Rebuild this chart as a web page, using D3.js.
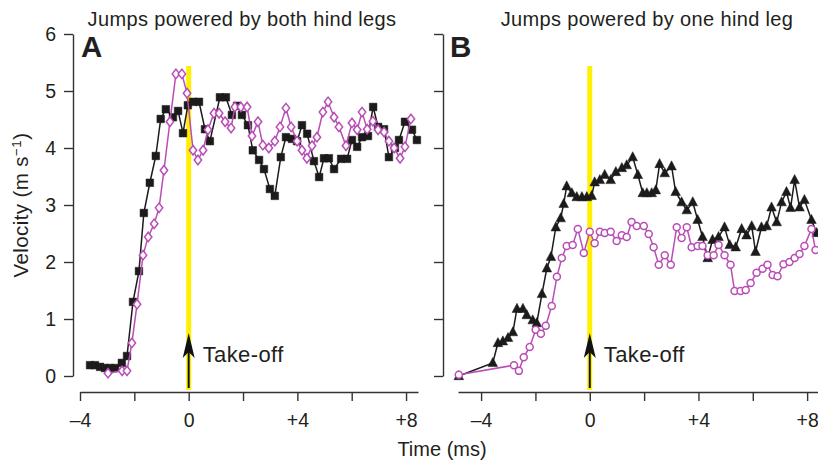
<!DOCTYPE html>
<html><head><meta charset="utf-8">
<script src="https://cdn.jsdelivr.net/npm/d3@7"></script>
<style>
body{margin:0;background:#fff}
text{font-family:"Liberation Sans",Arial,Helvetica,sans-serif;fill:#231f20}
</style></head><body>
<svg id="c" width="818" height="462"></svg>
<script>
// ---- data ----
const xTicks = [-4, -2, 0, 2, 4, 6, 8];
const xTickLabels = {"-4": "\u20134", "0": "0", "4": "+4", "8": "+8"};
const yTicks = [0, 1, 2, 3, 4, 5, 6];
const panelTitles = ["Jumps powered by both hind legs", "Jumps powered by one hind leg"];
const panelLetters = ["A", "B"];

// Panel A: both hind legs
const bothBlackTime = [-3.63,-3.45,-3.26,-3.08,-2.90,-2.71,-2.46,-2.27,-2.05,-1.83,-1.65,-1.43,-1.21,-1.03,-0.84,-0.58,-0.39,-0.21,-0.03,0.16,0.38,0.60,0.78,1.15,1.37,1.59,1.78,1.96,2.18,2.36,2.59,2.77,2.99,3.17,3.39,3.58,3.80,3.99,4.17,4.36,4.61,4.80,4.98,5.16,5.35,5.61,5.83,6.01,6.20,6.38,6.60,6.79,6.97,7.19,7.37,7.59,7.74,7.96,8.22,8.40];
const bothBlackVel = [0.19,0.19,0.16,0.14,0.14,0.14,0.23,0.35,1.30,1.84,2.86,3.39,3.86,4.51,4.68,4.54,4.65,4.26,4.75,4.81,4.81,4.33,4.12,4.89,4.89,4.58,4.74,4.58,4.40,3.96,3.79,3.63,3.28,3.16,3.84,4.19,4.16,4.12,4.40,4.25,3.77,3.49,3.82,3.82,3.63,3.81,3.81,4.14,4.02,4.19,4.21,4.72,4.37,4.33,3.84,4.00,4.14,4.46,4.32,4.14];
const bothMagTime = [-2.97,-2.45,-2.27,-2.09,-1.90,-1.68,-1.49,-1.27,-1.09,-0.91,-0.69,-0.47,-0.25,-0.06,0.16,0.34,0.53,0.71,0.93,1.12,1.34,1.56,1.70,1.92,2.15,2.33,2.55,2.73,2.95,3.17,3.36,3.58,3.77,3.99,4.17,4.35,4.54,4.72,4.94,5.13,5.35,5.53,5.79,6.01,6.20,6.38,6.57,6.78,6.97,7.19,7.37,7.56,7.78,7.96,8.18];
const bothMagVel = [0.05,0.09,0.09,0.58,1.26,2.12,2.44,2.67,2.95,3.61,4.46,5.30,5.30,4.96,3.96,3.79,3.96,4.32,4.61,4.61,4.46,4.35,4.72,4.72,4.72,4.21,4.46,4.05,4.00,4.12,4.37,4.70,4.37,4.12,3.96,3.82,4.04,4.19,4.63,4.81,4.54,4.37,4.04,4.44,4.32,4.63,4.33,4.47,4.32,4.28,4.12,4.00,3.82,4.02,4.51];

// Panel B: one hind leg
const oneBlackTime = [-4.82,-3.57,-3.38,-3.20,-3.01,-2.83,-2.68,-2.46,-2.32,-2.10,-1.95,-1.76,-1.58,-1.43,-1.25,-1.07,-0.96,-0.85,-0.66,-0.48,-0.29,-0.11,0.07,0.18,0.37,0.55,0.77,0.96,1.18,1.36,1.58,1.77,1.95,2.10,2.28,2.43,2.57,2.76,3.01,3.16,3.38,3.57,3.79,3.97,4.15,4.34,4.52,4.74,4.96,5.15,5.37,5.59,5.77,5.96,6.10,6.32,6.51,6.69,6.88,7.06,7.24,7.39,7.54,7.72,7.90,8.16,8.35];
const oneBlackVel = [0.00,0.23,0.58,0.61,0.67,0.77,1.18,1.18,1.07,0.98,0.93,1.44,1.89,2.09,2.61,2.77,3.02,3.33,3.21,3.14,3.14,3.14,3.16,3.40,3.44,3.53,3.44,3.58,3.65,3.70,3.84,3.53,3.21,3.21,3.21,3.26,3.72,3.56,3.68,3.23,3.05,2.91,3.05,2.74,2.44,2.07,2.39,2.44,2.61,2.30,2.26,2.58,2.47,2.63,2.18,2.61,2.63,2.96,2.70,3.05,3.23,2.95,3.44,2.96,3.09,2.74,2.51];
const oneMagTime = [-4.82,-2.79,-2.61,-2.43,-2.21,-1.99,-1.80,-1.62,-1.40,-1.21,-1.03,-0.85,-0.63,-0.44,-0.22,0.00,0.18,0.37,0.55,0.77,0.99,1.18,1.36,1.54,1.73,1.99,2.17,2.35,2.54,2.76,2.98,3.20,3.38,3.57,3.75,3.97,4.15,4.34,4.56,4.74,4.96,5.18,5.33,5.55,5.74,5.92,6.14,6.36,6.54,6.73,6.91,7.13,7.35,7.54,7.72,7.90,8.16,8.31];
const oneMagVel = [0.02,0.19,0.09,0.33,0.51,0.81,0.74,0.88,1.23,1.74,2.07,2.28,2.30,2.58,2.16,2.53,2.33,2.53,2.51,2.53,2.37,2.47,2.44,2.70,2.63,2.63,2.49,2.26,1.95,2.12,1.95,2.61,2.42,2.61,2.26,2.28,2.28,2.12,2.12,2.30,2.12,1.95,1.49,1.49,1.51,1.63,1.81,1.88,1.95,1.77,1.75,1.96,2.00,2.07,2.14,2.28,2.58,2.21];

// ---- layout ----
const BLACK = "#1c1a1b", MAG = "#b94db6", YEL = "#fff000", AX = "#333";
const svg = d3.select("#c");
const y = d3.scaleLinear().domain([0, 6]).range([376, 34]);
const panels = [
  {x: d3.scaleLinear().domain([-4, 8.44]).range([80, 418]), yAxisX: 73, labels: true,
   black: {t: bothBlackTime, v: bothBlackVel, shape: "square"},
   mag: {t: bothMagTime, v: bothMagVel, shape: "diamond"}, titleX: 242, letterX: 81},
  {x: d3.scaleLinear().domain([-4.85, 8.4]).range([458, 818]), yAxisX: 443, labels: false,
   black: {t: oneBlackTime, v: oneBlackVel, shape: "triangle"},
   mag: {t: oneMagTime, v: oneMagVel, shape: "circle"}, titleX: 647, letterX: 450}
];
const shapes = {
  square: "M-3.8,-3.8H3.8V3.8H-3.8Z",
  diamond: "M0,-4.7L3.7,0L0,4.7L-3.7,0Z",
  triangle: "M0,-5.4L4.8,3.7L-4.8,3.7Z"
};

panels.forEach((p, i) => {
  const g = svg.append("g");
  // yellow take-off bar
  g.append("rect").attr("x", p.x(0) - 2.5).attr("y", 66).attr("width", 5).attr("height", 324).attr("fill", YEL);

  // x axis
  const xa = g.append("g").attr("transform", "translate(0,392)")
    .call(d3.axisBottom(p.x).tickValues(xTicks).tickSize(9).tickSizeOuter(0).tickPadding(12)
      .tickFormat(d => xTickLabels[d] || ""));
  xa.select(".domain").attr("stroke", AX).attr("stroke-width", 1.4);
  xa.selectAll(".tick line").attr("stroke", AX).attr("stroke-width", 1.4);
  xa.selectAll("text").attr("font-size", 19.5).attr("fill", "#231f20").style("font-family", "Liberation Sans, Arial, sans-serif");

  // y axis
  const ya = g.append("g").attr("transform", `translate(${p.yAxisX},0)`)
    .call(d3.axisLeft(y).tickValues(yTicks).tickSize(9).tickSizeOuter(0).tickPadding(8)
      .tickFormat(d => p.labels ? d : ""));
  ya.select(".domain").attr("stroke", AX).attr("stroke-width", 1.4);
  ya.selectAll(".tick line").attr("stroke", AX).attr("stroke-width", 1.4);
  ya.selectAll("text").attr("font-size", 19.5).attr("fill", "#231f20").style("font-family", "Liberation Sans, Arial, sans-serif");

  // series
  const drawSeries = (s, color, filled) => {
    const pts = s.t.map((t, k) => [p.x(t), y(s.v[k])]);
    g.append("path").attr("d", d3.line()(pts)).attr("fill", "none")
      .attr("stroke", color).attr("stroke-width", 1.5);
    const sel = g.append("g").selectAll("path.m").data(pts).join("path").attr("class", "m")
      .attr("transform", d => `translate(${d[0]},${d[1]})`)
      .attr("fill", filled ? color : "#fff").attr("stroke", color)
      .attr("stroke-width", filled ? 0.5 : 1.5);
    if (s.shape === "circle") sel.attr("d", d3.arc()({innerRadius: 0, outerRadius: 3.5, startAngle: 0, endAngle: 2 * Math.PI}));
    else sel.attr("d", shapes[s.shape]);
  };
  drawSeries(p.black, BLACK, true);
  drawSeries(p.mag, MAG, false);

  // take-off arrow
  const ax0 = p.x(0);
  g.append("line").attr("x1", ax0).attr("x2", ax0).attr("y1", 352).attr("y2", 388)
    .attr("stroke", "#111").attr("stroke-width", 2);
  g.append("path").attr("d", `M${ax0},333L${ax0 + 6},358L${ax0},352L${ax0 - 6},358Z`).attr("fill", "#111");
  g.append("text").attr("x", ax0 + 14).attr("y", 362).attr("font-size", 22).attr("letter-spacing", 0.4).text("Take-off");

  // titles
  g.append("text").attr("x", p.titleX).attr("y", 26).attr("text-anchor", "middle")
    .attr("font-size", 20).attr("letter-spacing", 0.35).text(panelTitles[i]);
  g.append("text").attr("x", p.letterX).attr("y", 57).attr("font-size", 29.5)
    .attr("font-weight", "bold").text(panelLetters[i]);
});

// axis titles
svg.append("text").attr("x", 442).attr("y", 456).attr("text-anchor", "middle")
  .attr("font-size", 20).text("Time (ms)");
const yl = svg.append("text").attr("transform", "translate(28,205) rotate(-90)")
  .attr("text-anchor", "middle").attr("font-size", 20.5).attr("letter-spacing", 0.4);
yl.append("tspan").text("Velocity (m s");
yl.append("tspan").attr("font-size", 13.5).attr("dy", -7).text("\u22121");
yl.append("tspan").attr("dy", 7).text(")");
</script>
</body></html>
